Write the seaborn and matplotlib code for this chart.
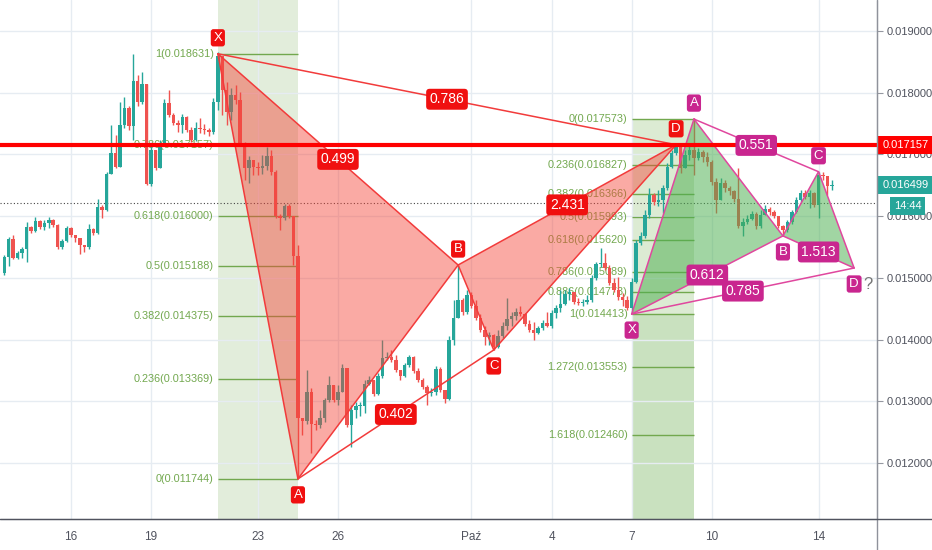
import numpy as np
import pandas as pd
import matplotlib
matplotlib.use("Agg")
import matplotlib.pyplot as plt
import matplotlib.dates as mdates
from matplotlib.lines import Line2D
import seaborn as sns

# 4h candles, prices in millionths (open = previous close)
times = pd.date_range("2019-09-13 12:00", periods=187, freq="4h")
first_open = 15079
close_u = [
    15339, 15630, 15322,
    15403, 15468, 15825, 15760, 15922, 15825,
    15889, 15938, 15857, 15501, 15598, 15808,
    15695, 15646, 15533, 15501, 15792, 15727,
    16149, 16100, 16683, 17023, 16797, 17477,
    17752, 17461, 18190, 17850, 18141, 16521,
    17072, 16780, 17153, 17833, 17639, 17509,
    17477, 17607, 17396, 17234, 17428, 17412,
    17396, 17364, 17850, 18595, 18044, 17688,
    17963, 17882, 17185, 16780, 16910, 16797,
    16780, 16813, 16975, 16716, 16003, 15970,
    16165, 16003, 15355, 12730, 12682, 13152,
    12633, 12617, 12730, 13022, 13265, 13022,
    13152, 13540, 12617, 12860, 12925, 12925,
    13281, 13346, 13119, 13411, 13702, 13719,
    13670, 13508, 13411, 13589, 13719, 13492,
    13346, 13233, 13135, 13152, 13524, 13184,
    13038, 13994, 14350, 14642, 14448, 14723,
    14545, 14350, 14156, 14042, 14075, 13881,
    14059, 14221, 14334, 14383, 14448, 14415,
    14253, 14156, 14107, 14188, 14269, 14221,
    14431, 14512, 14577, 14739, 14772, 14610,
    14593, 14610, 14642, 14998, 15225, 15241,
    15160, 14917, 14804, 14691, 14642, 14512,
    14934, 15565, 15679, 16019, 16343, 16230,
    16262, 16456, 16797, 17023, 17153, 16780,
    16991, 17072, 16942, 17040, 16959, 16878,
    16554, 16262, 16537, 16456, 16408, 16278,
    15841, 15906, 15954, 16035, 15841, 16019,
    16116, 16068, 16003, 15841, 15776, 15906,
    16068, 16262, 16375, 16311, 16375, 16181,
    16667, 16651, 16489, 16499,
]
high_u = [
    15371, 15663, 15695,
    15436, 15501, 15906, 15841, 15987, 15938,
    15938, 15987, 15954, 15873, 15630, 15841,
    15825, 15695, 15565, 15533, 15873, 15808,
    16278, 16181, 16716, 17477, 17315, 17850,
    17931, 17785, 18627, 18287, 18336, 18141,
    17153, 17072, 17234, 17898, 18044, 17671,
    17558, 17655, 17623, 17445, 17526, 17590,
    17493, 17428, 17914, 18660, 18562, 18174,
    18076, 18125, 18012, 17202, 16975, 16910,
    16878, 16991, 17121, 17072, 16748, 16035,
    16197, 16197, 15970, 15533, 12730, 13508,
    13216, 12698, 12860, 13054, 13411, 13216,
    13265, 13605, 13508, 12941, 12990, 12990,
    13346, 13411, 13346, 13459, 13994, 13800,
    13832, 13751, 13476, 13621, 13751, 13735,
    13540, 13378, 13265, 13216, 13573, 13557,
    13184, 14059, 14642, 15209, 14674, 14804,
    14772, 14642, 14415, 14221, 14124, 14091,
    14156, 14286, 14674, 14448, 14512, 14545,
    14431, 14318, 14286, 14221, 14318, 14448,
    14480, 14561, 14804, 14804, 14836, 14772,
    14674, 14658, 14723, 15047, 15258, 15484,
    15403, 15209, 14998, 15015, 14755, 14707,
    14998, 15614, 15744, 16100, 16456, 16375,
    16424, 16505, 16861, 17072, 17169, 17072,
    17072, 17153, 17590, 17104, 17072, 17040,
    16910, 16618, 16618, 16586, 16489, 16424,
    16780, 15970, 16019, 16084, 16068, 16100,
    16181, 16149, 16100, 16003, 15857, 15938,
    16100, 16311, 16424, 16424, 16424, 16392,
    16716, 16716, 16651, 16586,
]
low_u = [
    15047, 15193, 15306,
    15306, 15322, 15258, 15727, 15744, 15792,
    15776, 15808, 15825, 15468, 15468, 15582,
    15663, 15582, 15387, 15420, 15468, 15695,
    15711, 15970, 16084, 16716, 16780, 16813,
    17428, 17396, 17234, 17785, 17817, 16505,
    16489, 16748, 16780, 17137, 17607, 17477,
    17364, 17347, 17364, 17202, 17218, 17347,
    17331, 17299, 17331, 17720, 17639, 17477,
    17558, 17817, 17137, 16586, 16537, 16667,
    16667, 16683, 16748, 16667, 15970, 15776,
    15938, 15970, 15209, 11774, 12455, 12633,
    12163, 12536, 12568, 12666, 12990, 12990,
    12941, 13152, 12585, 12261, 12730, 12763,
    12811, 13265, 13087, 13103, 13378, 13670,
    13638, 13476, 13346, 13395, 13557, 13459,
    13314, 13200, 12941, 13087, 13103, 13152,
    12973, 13022, 13913, 14350, 14399, 14415,
    14512, 14318, 14124, 13913, 13913, 13832,
    13864, 14026, 14156, 14221, 14318, 14383,
    14221, 14124, 13994, 14091, 14156, 14205,
    14188, 14350, 14448, 14561, 14642, 14577,
    14561, 14545, 14577, 14610, 14966, 15177,
    15128, 14885, 14772, 14642, 14545, 14480,
    14415, 14917, 15533, 15646, 15970, 16181,
    16165, 16051, 16424, 16780, 16991, 16699,
    16780, 16910, 16667, 16910, 16878, 16813,
    16505, 16051, 16262, 16392, 16343, 16230,
    15808, 15679, 15873, 15938, 15792, 15808,
    16051, 16019, 15970, 15808, 15679, 15744,
    15873, 16051, 16230, 16278, 16132, 16149,
    15970, 16586, 16343, 16424,
]

# fibonacci retracements
fib1_ratio = ["1", "0.786", "0.618", "0.5", "0.382", "0.236", "0"]
fib1_price = [0.018631, 0.017157, 0.016000, 0.015188, 0.014375, 0.013369, 0.011744]
fib1_span = ["2019-09-21 12:00", "2019-09-24 12:00"]
fib2_ratio = ["0", "0.236", "0.382", "0.5", "0.618", "0.786", "0.886", "1", "1.272", "1.618"]
fib2_price = [0.017573, 0.016827, 0.016366, 0.015993, 0.015620, 0.015089,
              0.014773, 0.014413, 0.013553, 0.012460]
fib2_span = ["2019-10-07 00:00", "2019-10-09 08:00"]

# harmonic patterns X A B C D, ratios for legs XB, AC, XD, BD
pat_names = ["X", "A", "B", "C", "D"]
pat1_time = ["2019-09-21 12:00", "2019-09-24 12:00", "2019-09-30 12:00",
             "2019-10-01 20:00", "2019-10-08 16:00"]
pat1_price = [0.018631, 0.011744, 0.015209, 0.013832, 0.017157]
pat1_ratio = ["0.499", "0.402", "0.786", "2.431"]
pat2_time = ["2019-10-07 00:00", "2019-10-09 08:00", "2019-10-12 16:00",
             "2019-10-14 00:00", "2019-10-15 08:00"]
pat2_price = [0.014413, 0.017573, 0.015680, 0.016720, 0.015160]
pat2_ratio = ["0.612", "0.551", "0.785", "1.513"]

level_red = 0.017157
last_price = 0.016499
dotted_price = 0.016210
price_ticks = [0.012, 0.013, 0.014, 0.015, 0.016, 0.017, 0.018, 0.019]
date_ticks = ["2019-09-16", "2019-09-19", "2019-09-23", "2019-09-26", "2019-10-01",
              "2019-10-04", "2019-10-07", "2019-10-10", "2019-10-14"]
date_labels = ["16", "19", "23", "26", "Paź", "4", "7", "10", "14"]

sns.set_style("white")
plt.rcParams["font.family"] = ["Liberation Sans", "DejaVu Sans"]

UP, DOWN = "#26a69a", "#ef5350"
FIBC = "#72a84e"

close = np.array(close_u) / 1e6
opens = np.concatenate([[first_open], close_u[:-1]]) / 1e6
high = np.maximum.reduce([np.array(high_u) / 1e6, opens, close])
low = np.minimum.reduce([np.array(low_u) / 1e6, opens, close])
x = mdates.date2num(times)

fig = plt.figure(figsize=(9.32, 5.5), dpi=100)
ax = fig.add_axes([0, 31 / 550, 877 / 932, 519 / 550])

d16 = mdates.date2num(pd.Timestamp("2019-09-16"))
ax.set_xlim(d16 - 2.66, d16 + 30.19)
ax.set_ylim(0.011094, 0.019502)

# fib bands
f1 = mdates.date2num(pd.to_datetime(fib1_span))
f2 = mdates.date2num(pd.to_datetime(fib2_span))
ax.axvspan(f1[0], f1[1], color="#e2eddb", lw=0, zorder=0.5)
ax.fill_between(f2, fib2_price[0], fib2_price[7], color="#dcebd3", lw=0, zorder=0.5)
ax.fill_between(f2, fib2_price[7], 0.011094, color="#c9e1bf", lw=0, zorder=0.5)

for span, ratios, prices in [(f1, fib1_ratio, fib1_price), (f2, fib2_ratio, fib2_price)]:
    ax.hlines(prices, span[0], span[1], color=FIBC, lw=1, zorder=2)
    for r, p in zip(ratios, prices):
        ax.annotate(f"{r}({p:.6f})", (span[0], p), xytext=(-3, 0), textcoords="offset points",
                    ha="right", va="center", fontsize=7.8, color=FIBC, zorder=2)

ax.axhline(dotted_price, color="#444444", ls=(0, (1, 2)), lw=0.8, zorder=1.5)

# candles
colors = np.where(close >= opens, UP, DOWN)
ax.vlines(x, low, high, colors=colors, lw=1, zorder=3)
body_lo = np.minimum(opens, close)
body_h = np.maximum(np.abs(close - opens), 0.00002)
ax.bar(x, body_h, bottom=body_lo, width=0.13, color=colors, lw=0, zorder=3)


def draw_pattern(ptimes, pprices, ratios, line_c, fill_c, fill_a, box_c, up_flags):
    px = mdates.date2num(pd.to_datetime(ptimes))
    py = np.array(pprices)
    ax.fill(px[[0, 1, 2]], py[[0, 1, 2]], color=fill_c, alpha=fill_a, lw=0, zorder=4)
    ax.fill(px[[2, 3, 4]], py[[2, 3, 4]], color=fill_c, alpha=fill_a, lw=0, zorder=4)
    for i, j in [(0, 1), (1, 2), (2, 3), (3, 4), (0, 2), (1, 3), (0, 4), (2, 4)]:
        sns.lineplot(x=px[[i, j]], y=py[[i, j]], ax=ax, color=line_c, lw=1.1,
                     sort=False, estimator=None, zorder=5)
    for (i, j), r in zip([(0, 2), (1, 3), (0, 4), (2, 4)], ratios):
        ax.text((px[i] + px[j]) / 2, (py[i] + py[j]) / 2, r, ha="center", va="center",
                fontsize=10, color="white", zorder=8,
                bbox=dict(boxstyle="round,pad=0.25", fc=box_c, ec="none"))
    for name, xx, yy, up in zip(pat_names, px, py, up_flags):
        ax.annotate(name, (xx, yy), xytext=(0, 11.5 if up else -11.5), textcoords="offset points",
                    ha="center", va="center", fontsize=9.5, color="white", zorder=8,
                    bbox=dict(boxstyle="round,pad=0.2", fc=box_c, ec="none"))
    return px, py


draw_pattern(pat1_time, pat1_price, pat1_ratio, "#f23b3b", "#f44336", 0.45, "#f01010",
             [True, False, True, False, True])
p2x, p2y = draw_pattern(pat2_time, pat2_price, pat2_ratio, "#e0479e", "#4caf50", 0.52, "#c9268f",
                        [False, True, False, True, False])
ax.annotate("?", (p2x[4], p2y[4]), xytext=(10, -12), textcoords="offset points",
            ha="center", va="center", fontsize=12, color="#777777", zorder=8)

ax.axhline(level_red, color="#ff0000", lw=3, zorder=6)

# axes styling
ax.yaxis.tick_right()
ax.set_yticks(price_ticks)
ax.set_yticklabels([f"{p:.6f}" for p in price_ticks])
ax.set_xticks(mdates.date2num(pd.to_datetime(date_ticks)))
ax.set_xticklabels(date_labels)
ax.tick_params(axis="y", length=4, color="#9598a1", labelcolor="#50535e", labelsize=8, pad=3)
ax.tick_params(axis="x", length=4, color="#50535e", labelcolor="#50535e", labelsize=8.5, pad=5)
ax.grid(True, color="#e6ecf2", lw=1)
ax.set_axisbelow(True)
for s in ["top", "left"]:
    ax.spines[s].set_visible(False)
ax.spines["right"].set_color("#8f929b")
ax.spines["bottom"].set_color("#50535e")
fig.add_artist(Line2D([877 / 932, 877 / 932], [0, 1], color="#8f929b", lw=1))
fig.add_artist(Line2D([0, 1], [31 / 550, 31 / 550], color="#50535e", lw=1))

tr = ax.get_yaxis_transform()
ax.text(1.006, level_red, "0.017157", transform=tr, ha="left", va="center", fontsize=8,
        color="white", zorder=10, clip_on=False,
        bbox=dict(boxstyle="square,pad=0.35", fc="#ff0000", ec="none"))
ax.text(1.006, last_price, "0.016499", transform=tr, ha="left", va="center", fontsize=8,
        color="white", zorder=10, clip_on=False,
        bbox=dict(boxstyle="square,pad=0.35", fc=UP, ec="none"))
ax.annotate("14:44", (1.0, last_price), xycoords=tr, xytext=(22, -15), textcoords="offset points",
            ha="center", va="center", fontsize=8, color="white", zorder=10, annotation_clip=False,
            bbox=dict(boxstyle="square,pad=0.35", fc=UP, ec="none"))

fig.savefig("out.png", dpi=100)
